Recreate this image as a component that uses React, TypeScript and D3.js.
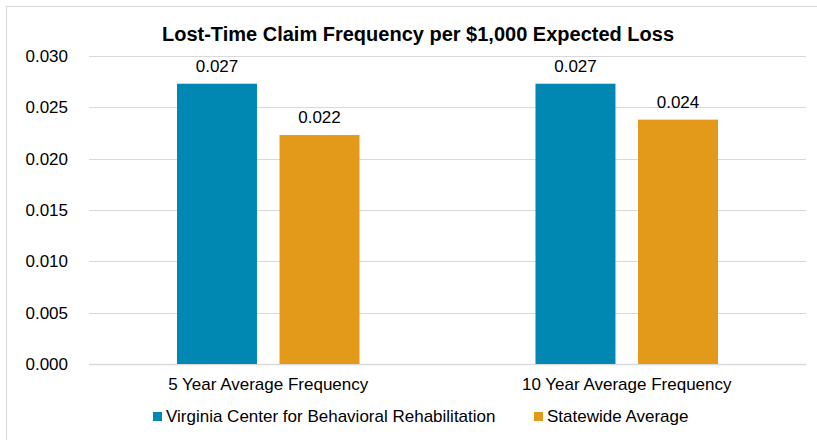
import React from "react";
import * as d3 from "d3";

const categories = ["5 Year Average Frequency", "10 Year Average Frequency"];
const seriesNames = ["Virginia Center for Behavioral Rehabilitation", "Statewide Average"];
const vcbrValues = [0.0273, 0.0273];
const statewideValues = [0.0223, 0.0238];
const valueLabels = [["0.027", "0.027"], ["0.022", "0.024"]];
const yTicks = [0, 0.005, 0.01, 0.015, 0.02, 0.025, 0.03];
const colors = ["#0088B2", "#E3991A"];
const title = "Lost-Time Claim Frequency per $1,000 Expected Loss";

const W = 817;
const H = 440;
const FONT = "'Liberation Sans', Arial, sans-serif";

export default function App() {
  const series = [vcbrValues, statewideValues];
  const y = d3.scaleLinear().domain([0, 0.03]).range([364, 56]);
  const x0 = d3.scaleBand<string>().domain(categories).range([89, 806]).paddingInner(0).paddingOuter(0);
  const x1 = d3
    .scaleBand<string>()
    .domain(seriesNames)
    .range([0, x0.bandwidth()])
    .paddingInner(0.22)
    .paddingOuter(0.858);
  const fmt = d3.format(".3f");

  return (
    <svg width={W} height={H} style={{ position: "absolute", left: 0, top: 0 }} fontFamily={FONT}>
      <rect x={0} y={0} width={W} height={H} fill="#fff" />
      <line x1={6.5} x2={6.5} y1={6} y2={H} stroke="#D9D9D9" strokeWidth={1} />
      <line x1={6} x2={W} y1={6.5} y2={6.5} stroke="#D9D9D9" strokeWidth={1} />
      <text x={418} y={40.5} textAnchor="middle" fontSize={20} fontWeight="bold" fill="#000">
        {title}
      </text>
      {yTicks.map((t) => (
        <g key={t}>
          <line x1={89} x2={806} y1={Math.round(y(t)) + 0.5} y2={Math.round(y(t)) + 0.5} stroke="#D9D9D9" strokeWidth={t === 0 ? 1.5 : 1} />
          <text x={68} y={y(t)} dy="0.35em" textAnchor="end" fontSize={17} fill="#000">
            {fmt(t)}
          </text>
        </g>
      ))}
      {categories.map((c, ci) => (
        <g key={c} transform={`translate(${x0(c)},0)`}>
          {seriesNames.map((s, si) => {
            const v = series[si][ci];
            const bx = x1(s)!;
            return (
              <g key={s}>
                <rect x={bx} y={y(v)} width={x1.bandwidth()} height={y(0) - y(v)} fill={colors[si]} />
                <text x={bx + x1.bandwidth() / 2} y={y(v) - 12} textAnchor="middle" fontSize={17} fill="#000">
                  {valueLabels[si][ci]}
                </text>
              </g>
            );
          })}
          <text x={x0.bandwidth() / 2} y={390} textAnchor="middle" fontSize={17} fill="#000">
            {c}
          </text>
        </g>
      ))}
      {seriesNames.map((s, si) => {
        const lx = [153, 534][si];
        return (
          <g key={s}>
            <rect x={lx} y={412} width={9} height={9} fill={colors[si]} />
            <text x={lx + 13} y={422.3} fontSize={17} fill="#000">
              {s}
            </text>
          </g>
        );
      })}
    </svg>
  );
}
